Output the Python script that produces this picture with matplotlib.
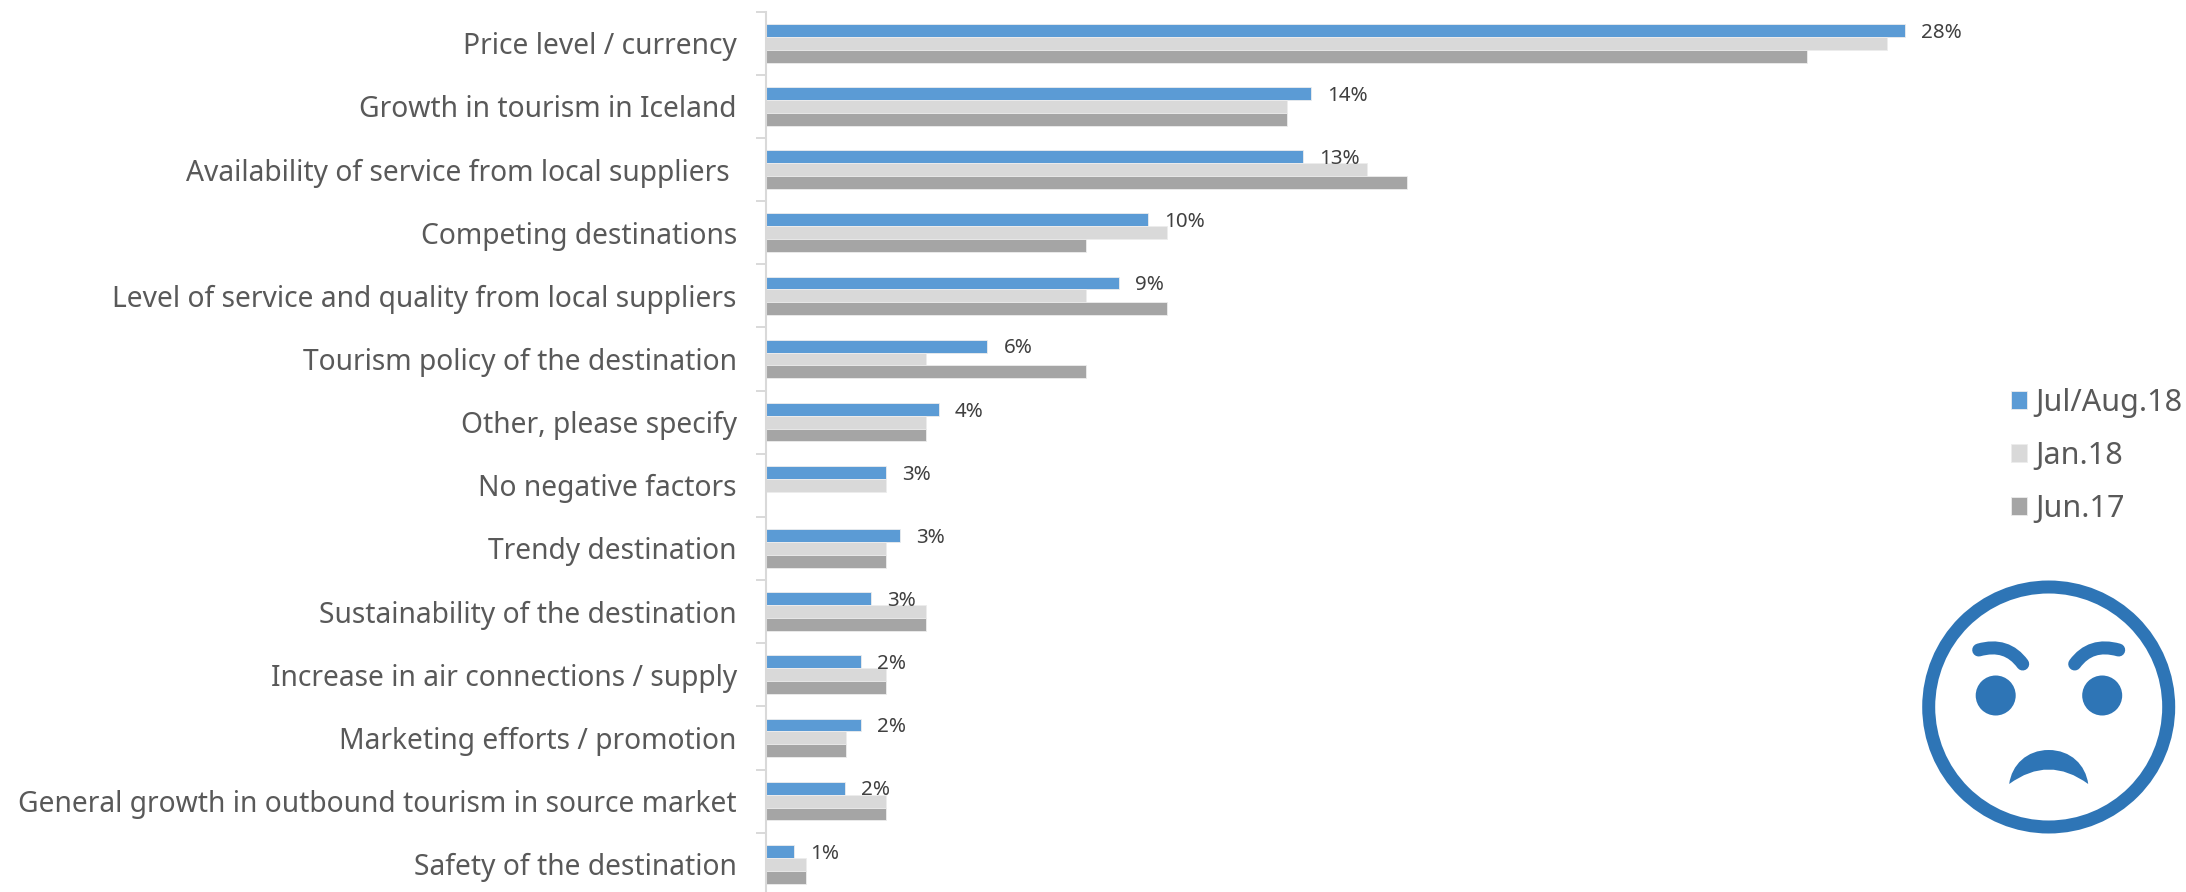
import matplotlib
matplotlib.use("Agg")
import matplotlib.pyplot as plt
from matplotlib.patches import Circle, PathPatch
from matplotlib.path import Path

W, H = 2186, 892

categories = [
    "Price level / currency",
    "Growth in tourism in Iceland",
    "Availability of service from local suppliers ",
    "Competing destinations",
    "Level of service and quality from local suppliers",
    "Tourism policy of the destination",
    "Other, please specify",
    "No negative factors",
    "Trendy destination",
    "Sustainability of the destination",
    "Increase in air connections / supply",
    "Marketing efforts / promotion",
    "General growth in outbound tourism in source market",
    "Safety of the destination",
]
jul_aug_18 = [28.43, 13.6, 13.4, 9.55, 8.82, 5.53, 4.31, 3.0, 3.34, 2.62, 2.38, 2.38, 1.98, 0.71]
jan_18 = [28, 13, 15, 10, 8, 4, 4, 3, 3, 4, 3, 2, 3, 1]
jun_17 = [26, 13, 16, 8, 10, 8, 4, 0, 3, 4, 3, 2, 3, 1]
series_names = ["Jul/Aug.18", "Jan.18", "Jun.17"]
series_colors = ["#5B9BD5", "#D9D9D9", "#A5A5A5"]

FONT = "Noto Sans"
TEXT = "#595959"
FACE = "#2E75B6"

fig = plt.figure(figsize=(W / 100, H / 100), dpi=100, facecolor="white")

# Plot area: about 40 px per percentage point, 63.15 px per category row
left, top, row = 766.0, 11.7, 63.15
px_per_pct = 40.05
xmax = 30
ax = fig.add_axes([
    left / W,
    (H - (top + row * len(categories))) / H,
    xmax * px_per_pct / W,
    row * len(categories) / H,
])

bar_h = 0.204
rows = list(range(len(categories)))
all_series = [jul_aug_18, jan_18, jun_17]
containers = []
for i, (vals, color, name) in enumerate(zip(all_series, series_colors, series_names)):
    ys = [r + (i - 1) * bar_h for r in rows]
    containers.append(ax.barh(ys, vals, height=bar_h, color=color, label=name,
                              edgecolor="#EDEDED", linewidth=0.6))

value_labels = ax.bar_label(containers[0], labels=[f"{v:.0f}%" for v in jul_aug_18],
                            padding=11.5, fontsize=14.8, color="#404040", family=FONT)
for label in value_labels:
    dx, dy = label.xyann
    label.xyann = (dx, dy - 1.6)

ax.set_xlim(0, xmax)
ax.set_ylim(len(categories) - 0.5, -0.5)
ax.set_yticks(rows, categories, fontsize=20.3, color=TEXT, family=FONT)
ax.set_yticks([r - 0.5 for r in rows] + [len(categories) - 0.5], minor=True)
ax.tick_params(axis="y", which="major", length=0, pad=21)
ax.tick_params(axis="y", which="minor", length=7.5, width=1.4, color="#D9D9D9")
ax.xaxis.set_visible(False)
for side in ("top", "right", "bottom"):
    ax.spines[side].set_visible(False)
ax.spines["left"].set_color("#D9D9D9")
ax.spines["left"].set_linewidth(1.5)

fig.legend(
    handles=containers, labels=series_names, loc="upper left",
    bbox_to_anchor=(2011 / W, 1 - 388 / H), frameon=False,
    labelcolor=TEXT, prop={"family": FONT, "size": 22},
    handlelength=0.52, handleheight=0.52, handletextpad=0.27,
    labelspacing=0.745, borderpad=0, borderaxespad=0,
)

# Frowning face drawn in pixel coordinates on a full-figure overlay
face = fig.add_axes([0, 0, 1, 1], facecolor="none")
face.set_xlim(0, W)
face.set_ylim(H, 0)
face.axis("off")
cx, cy = 2048.7, 707
px = 0.72
face.add_patch(Circle((cx, cy), 120, facecolor="none", edgecolor=FACE, linewidth=13 * px))
for ex in (cx - 53, cx + 53.5):
    face.add_patch(Circle((ex, 695.5), 20, facecolor=FACE, edgecolor="none"))
for sign in (-1, 1):
    brow = Path(
        [(cx + sign * 70, 650), (cx + sign * 42, 642), (cx + sign * 26, 664)],
        [Path.MOVETO, Path.CURVE3, Path.CURVE3],
    )
    face.add_patch(PathPatch(brow, facecolor="none", edgecolor=FACE,
                             linewidth=13 * px, capstyle="round"))
mouth = Path(
    [(cx - 39.5, 784), (cx - 37, 765), (cx - 22, 750), (cx, 750),
     (cx + 22, 750), (cx + 37, 765), (cx + 39.5, 784),
     (cx, 755), (cx - 39.5, 784), (cx - 39.5, 784)],
    [Path.MOVETO, Path.CURVE4, Path.CURVE4, Path.CURVE4,
     Path.CURVE4, Path.CURVE4, Path.CURVE4,
     Path.CURVE3, Path.CURVE3, Path.CLOSEPOLY],
)
face.add_patch(PathPatch(mouth, facecolor=FACE, edgecolor="none"))

fig.savefig("out.png", dpi=100)
